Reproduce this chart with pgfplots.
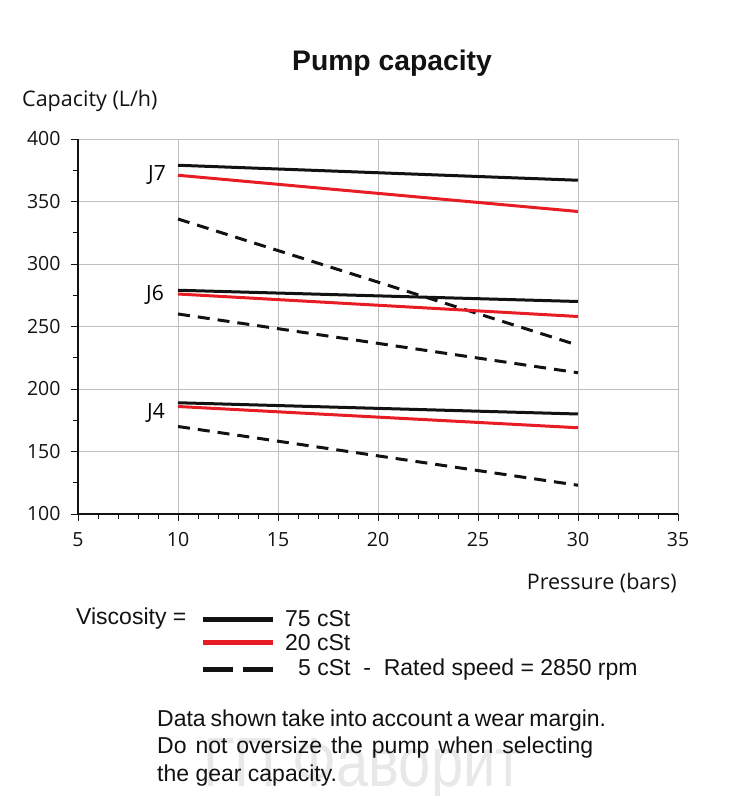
\documentclass[border=0pt]{standalone}
\usepackage{fontspec}
\setmainfont{Liberation Sans}
\newfontfamily\calfont{Open Sans}
\usepackage{pgfplots}
\pgfplotsset{compat=1.18}
\definecolor{myred}{RGB}{232,28,36}
\definecolor{myblack}{RGB}{18,18,18}
\definecolor{grid}{RGB}{165,165,165}
\begin{document}
\begin{tikzpicture}[x=1pt,y=1pt]
\path[use as bounding box] (0,0) rectangle (733,796);
% watermark
\node[anchor=base west, inner sep=0, text=gray!18, font=\fontsize{58}{60}\selectfont, yscale=1.2] at (203,9) {ГП Фаворит};
\begin{axis}[
  at={(78pt,282pt)}, anchor=south west,
  scale only axis, width=600pt, height=375pt,
  xmin=5, xmax=35, ymin=100, ymax=400,
  xtick={5,10,...,35}, ytick={100,150,...,400},
  minor x tick num=4, minor y tick num=1,
  axis lines*=left,
  axis line style={myblack, line width=1.3pt},
  tick align=outside,
  major tick length=7pt, minor tick length=5pt,
  every tick/.style={myblack, line width=0.9pt},
  grid=major,
  major grid style={grid, line width=0.9pt},
  /pgf/number format/assume math mode=true,
  ticklabel style={font=\calfont\fontsize{19.5}{23}\selectfont, text=myblack},
  xticklabel style={yshift=-8pt},
  yticklabel style={xshift=-7pt},
  clip=false,
]
\addplot[myblack, line width=3pt] coordinates {(10,379) (30,367)};
\addplot[myred, line width=3pt] coordinates {(10,371) (30,342)};
\addplot[myblack, line width=3pt, dash pattern=on 12pt off 8pt] coordinates {(10,336) (30,235)};
\addplot[myblack, line width=3pt] coordinates {(10,279) (30,270)};
\addplot[myred, line width=3pt] coordinates {(10,276) (30,258)};
\addplot[myblack, line width=3pt, dash pattern=on 12pt off 8pt] coordinates {(10,260) (30,213)};
\addplot[myblack, line width=3pt] coordinates {(10,189) (30,180)};
\addplot[myred, line width=3pt] coordinates {(10,186) (30,169)};
\addplot[myblack, line width=3pt, dash pattern=on 12pt off 8pt] coordinates {(10,170) (30,123)};
\node[anchor=east, inner sep=0, font=\calfont\fontsize{21}{24}\selectfont] at (axis cs:9.4,371) {J7};
\node[anchor=east, inner sep=0, font=\calfont\fontsize{21}{24}\selectfont] at (axis cs:9.3,275) {J6};
\node[anchor=east, inner sep=0, font=\calfont\fontsize{21}{24}\selectfont] at (axis cs:9.35,181) {J4};
\end{axis}
% title and axis labels
\node[font=\bfseries\fontsize{28.3}{32}\selectfont, text=myblack] at (392,733) {Pump capacity};
\node[anchor=west, inner sep=0, font=\calfont\fontsize{21.5}{26}\selectfont, text=myblack] at (22,695) {Capacity (L/h)};
\node[anchor=east, inner sep=0, font=\calfont\fontsize{21.5}{26}\selectfont, text=myblack] at (677,213) {Pressure (bars)};
% legend
\begin{scope}[font=\fontsize{23}{26}\selectfont, text=myblack]
\node[anchor=west, inner sep=0] at (76,177) {Viscosity =};
\draw[myblack, line width=5pt] (203,176) -- (273,176);
\node[anchor=west, inner sep=0] at (285,177) {75 cSt};
\draw[myred, line width=5pt] (203,153) -- (273,153);
\node[anchor=west, inner sep=0] at (285,153) {20 cSt};
\draw[myblack, line width=5pt] (203,126) -- (233,126);
\draw[myblack, line width=5pt] (243,126) -- (273,126);
\node[anchor=west, inner sep=0] at (298,126) {5 cSt\ \ -\ \ Rated speed = 2850 rpm};
\end{scope}
% note
\begin{scope}[font=\fontsize{23}{26}\selectfont, text=myblack]
\node[anchor=base west, inner sep=0] at (157,69) {\makebox[449pt][s]{Data shown take into account a wear margin.}};
\node[anchor=base west, inner sep=0] at (157,42) {\makebox[436pt][s]{Do not oversize the pump when selecting}};
\node[anchor=base west, inner sep=0] at (157,15) {the gear capacity.};
\end{scope}
\end{tikzpicture}
\end{document}
